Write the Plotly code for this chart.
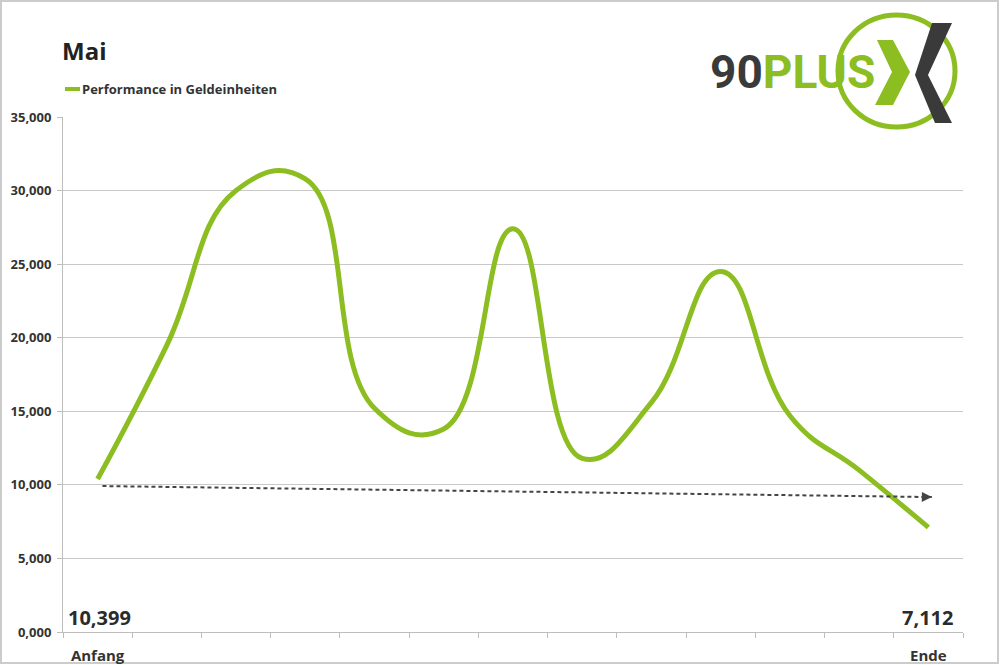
import plotly.graph_objects as go

# ---- data ----
categories = ["Anfang", "", "", "", "", "", "", "", "", "", "", "", "Ende"]
performance = [10399, 19500, 30000, 30800, 15200, 13800, 27400, 11800, 15600, 24500, 14700, 11000, 7112]
trend_x = [0.07, 12.05]
trend_y = [9918, 9171]
y_ticks = [0, 5000, 10000, 15000, 20000, 25000, 30000, 35000]
y_ticktext = ["0,000", "5,000", "10,000", "15,000", "20,000", "25,000", "30,000", "35,000"]
title_text = "Mai"
series_name = "Performance in Geldeinheiten"
start_label = "10,399"
end_label = "7,112"

# ---- layout constants ----
W, H = 1000, 665
ML, MR, MT, MB = 63, 37, 117, 33
PW, PH = W - ML - MR, H - MT - MB
GREEN = "#8cbd21"
DARK = "#3a3a3a"
FONT = "Open Sans"


def px(x):
    return (x - ML) / PW


def py(y):
    return (H - MB - y) / PH


xs = list(range(len(categories)))

fig = go.Figure()
fig.add_trace(go.Scatter(
    x=xs, y=performance, mode="lines", name=series_name,
    line=dict(color=GREEN, width=5, shape="spline", smoothing=1.3),
    showlegend=False, hoverinfo="y",
))
fig.add_trace(go.Scatter(
    x=trend_x, y=trend_y, mode="lines",
    line=dict(color="#444444", width=2, dash="4px,3px"),
    showlegend=False, hoverinfo="skip",
))

shapes = []
# outer frame
shapes.append(dict(type="rect", xref="paper", yref="paper",
                   x0=px(1), x1=px(998), y0=py(1), y1=py(663),
                   line=dict(color="#cccccc", width=2), layer="below"))
# legend sample line
shapes.append(dict(type="line", xref="paper", yref="paper",
                   x0=px(65), x1=px(80), y0=py(89), y1=py(89),
                   line=dict(color=GREEN, width=4)))
# logo circle
shapes.append(dict(type="circle", xref="paper", yref="paper",
                   x0=px(838), x1=px(955), y0=py(127), y1=py(15),
                   line=dict(color=GREEN, width=5), layer="above"))


def poly(points, color):
    path = "M " + " L ".join(f"{px(a):.5f},{py(b):.5f}" for a, b in points) + " Z"
    return dict(type="path", xref="paper", yref="paper", path=path,
                fillcolor=color, line=dict(width=0), layer="above")


shapes.append(poly([(877, 40), (893, 40), (910, 72), (893, 105), (875, 105), (892, 72)], GREEN))
shapes.append(poly([(932, 23), (952, 23), (928, 75), (952, 123), (935, 123), (915, 75)], DARK))

annotations = [
    dict(text=f"<b>{title_text}</b>", xref="paper", yref="paper", x=px(60), y=py(50),
         xanchor="left", yanchor="middle", showarrow=False,
         font=dict(family=FONT, size=24, color="#222222")),
    dict(text=f"<b>{series_name}</b>", xref="paper", yref="paper", x=px(80), y=py(89),
         xanchor="left", yanchor="middle", showarrow=False,
         font=dict(family=FONT, size=13, color="#333333")),
    dict(text=f"<b>{start_label}</b>", xref="paper", yref="paper", x=px(66), y=py(617),
         xanchor="left", yanchor="middle", showarrow=False,
         font=dict(family=FONT, size=20, color="#2b2b2b")),
    dict(text=f"<b>{end_label}</b>", xref="paper", yref="paper", x=px(955), y=py(617),
         xanchor="right", yanchor="middle", showarrow=False,
         font=dict(family=FONT, size=20, color="#2b2b2b")),
    dict(text=f"<b><span style='color:{DARK}'>90</span><span style='color:{GREEN}'>PLUS</span></b>",
         xref="paper", yref="paper", x=px(877), y=py(72),
         xanchor="right", yanchor="middle", showarrow=False,
         font=dict(family="Roboto", size=46, color=DARK)),
    # arrow head of trend line
    dict(x=trend_x[1], y=trend_y[1], ax=trend_x[1] - 0.15, ay=trend_y[1] + 12,
         xref="x", yref="y", axref="x", ayref="y", text="", showarrow=True,
         arrowhead=2, arrowsize=1, arrowwidth=2, arrowcolor="#444444"),
]

fig.update_layout(
    width=W, height=H,
    margin=dict(l=ML, r=MR, t=MT, b=MB, pad=0, autoexpand=False),
    paper_bgcolor="white", plot_bgcolor="white",
    font=dict(family=FONT, color="#333333"),
    shapes=shapes, annotations=annotations,
    showlegend=False,
)
fig.update_xaxes(
    range=[-0.5, len(categories) - 0.5],
    tickvals=[0, len(categories) - 1], ticktext=["<b>Anfang</b>", "<b>Ende</b>"],
    ticks="", ticklabelstandoff=10, automargin=False,
    tickfont=dict(family=FONT, size=15, color="#333333"),
    showgrid=False, zeroline=False,
    showline=True, linecolor="#bdbdbd", linewidth=1,
    minor=dict(tick0=0.5, dtick=1, ticks="outside", ticklen=5, tickcolor="#bdbdbd", showgrid=False),
    fixedrange=True,
)
fig.update_yaxes(
    range=[0, 35000], automargin=False,
    tickvals=y_ticks, ticktext=[f"<b>{t}</b>" for t in y_ticktext],
    ticks="outside", ticklen=5, tickcolor="#bdbdbd", ticklabelstandoff=3,
    tickfont=dict(family=FONT, size=13, color="#333333"),
    showgrid=True, gridcolor="#c8c8c8", gridwidth=1,
    zeroline=False, showline=True, linecolor="#bdbdbd", linewidth=1,
    fixedrange=True,
)

fig.write_html("out.html", config={"displayModeBar": False},
               post_script="document.body.style.margin='0';document.body.style.overflow='hidden';")
